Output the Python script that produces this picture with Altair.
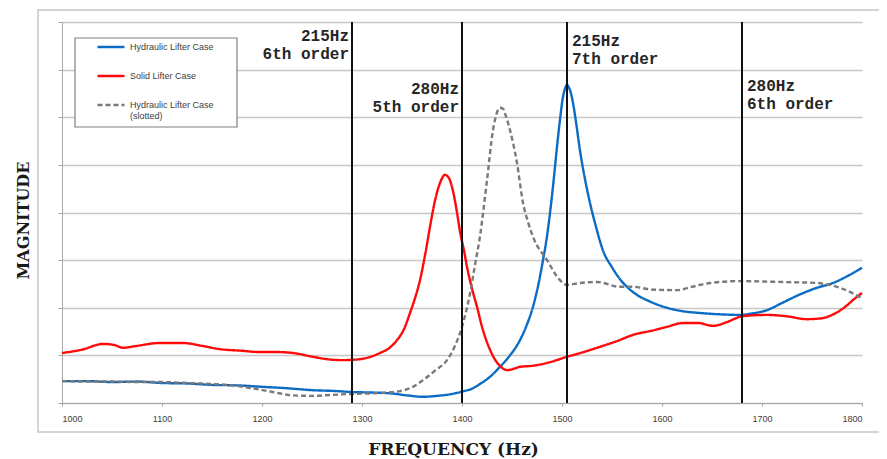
import altair as alt
import pandas as pd

# ---------------- data ----------------
series_names = ["Hydraulic Lifter Case", "Solid Lifter Case", "Hydraulic Lifter Case (slotted)"]
series_colors = ["#0a6cc4", "#ff0a0a", "#7a7a7a"]
series_dash = [[1, 0], [1, 0], [5, 3]]

hyd_freq = [1000, 1025, 1050, 1075, 1100, 1125, 1150, 1175, 1200, 1225, 1250, 1275, 1290,
            1310, 1330, 1345, 1361, 1375, 1390, 1400, 1410, 1418, 1428, 1438, 1448, 1458,
            1465, 1471, 1476, 1481, 1485, 1488, 1492, 1495, 1498, 1501, 1503, 1505, 1507,
            1509, 1511, 1514, 1518, 1523, 1528, 1534, 1541, 1550, 1558, 1571, 1588, 1605,
            1620, 1638, 1660, 1678, 1690, 1705, 1720, 1738, 1755, 1771, 1785, 1800]
hyd_mag = [0.46, 0.46, 0.44, 0.45, 0.42, 0.41, 0.38, 0.37, 0.34, 0.31, 0.27, 0.25, 0.23,
           0.22, 0.20, 0.16, 0.13, 0.15, 0.19, 0.24, 0.30, 0.40, 0.55, 0.76, 1.00, 1.32,
           1.65, 2.02, 2.45, 3.00, 3.50, 3.99, 4.75, 5.38, 5.95, 6.43, 6.60, 6.68, 6.62,
           6.50, 6.30, 5.90, 5.30, 4.70, 4.20, 3.70, 3.20, 2.85, 2.60, 2.33, 2.13, 2.00,
           1.93, 1.89, 1.86, 1.85, 1.88, 1.95, 2.10, 2.28, 2.42, 2.52, 2.66, 2.84]

solid_freq = [1000, 1020, 1041, 1052, 1061, 1075, 1098, 1121, 1140, 1158, 1178, 1198, 1215,
              1231, 1251, 1265, 1280, 1298, 1310, 1318, 1327, 1335, 1342, 1348, 1353, 1358,
              1363, 1368, 1373, 1378, 1383, 1387, 1391, 1395, 1398, 1402, 1405, 1410, 1415,
              1420, 1428, 1435, 1440, 1445, 1452, 1458, 1470, 1485, 1505, 1520, 1538, 1555,
              1571, 1590, 1605, 1621, 1636, 1651, 1665, 1678, 1690, 1705, 1725, 1745, 1760,
              1770, 1782, 1792, 1800]
solid_mag = [1.05, 1.12, 1.24, 1.22, 1.16, 1.20, 1.26, 1.26, 1.20, 1.13, 1.10, 1.07, 1.07,
             1.05, 0.97, 0.92, 0.90, 0.92, 0.98, 1.05, 1.15, 1.32, 1.55, 1.89, 2.20, 2.58,
             3.10, 3.70, 4.25, 4.62, 4.79, 4.72, 4.45, 4.00, 3.60, 3.20, 2.86, 2.40, 2.02,
             1.60, 1.12, 0.85, 0.74, 0.69, 0.72, 0.76, 0.78, 0.84, 0.97, 1.06, 1.18, 1.30,
             1.43, 1.52, 1.60, 1.68, 1.68, 1.62, 1.70, 1.81, 1.84, 1.85, 1.82, 1.76, 1.78,
             1.85, 2.00, 2.18, 2.31]

slot_freq = [1000, 1025, 1050, 1075, 1100, 1125, 1150, 1170, 1190, 1211, 1231, 1251, 1270,
             1288, 1318, 1338, 1350, 1361, 1373, 1385, 1393, 1400, 1408, 1413, 1418, 1425,
             1431, 1435, 1438, 1441, 1444, 1448, 1455, 1461, 1466, 1471, 1485, 1498, 1505,
             1518, 1535, 1558, 1571, 1590, 1615, 1630, 1648, 1678, 1721, 1755, 1778, 1800]
slot_mag = [0.46, 0.45, 0.45, 0.44, 0.44, 0.42, 0.40, 0.37, 0.31, 0.23, 0.16, 0.15, 0.17,
            0.19, 0.21, 0.25, 0.33, 0.48, 0.68, 0.90, 1.20, 1.60, 2.30, 2.90, 3.50, 4.68,
            5.73, 6.10, 6.20, 6.18, 6.02, 5.73, 5.04, 4.20, 3.80, 3.49, 3.00, 2.58, 2.48,
            2.52, 2.54, 2.44, 2.44, 2.38, 2.37, 2.44, 2.52, 2.56, 2.54, 2.52, 2.42, 2.20]

order_freq = [1290, 1400, 1505, 1680]
order_text = ["215Hz\n6th order", "280Hz\n5th order", "215Hz\n7th order", "280Hz\n6th order"]
order_text_y = [7.60, 6.49, 7.49, 6.55]
order_side = ["right", "right", "left", "left"]

x_ticks = [1000, 1100, 1200, 1300, 1400, 1500, 1600, 1700, 1800]
y_ticks = [0, 1, 2, 3, 4, 5, 6, 7, 8]

# ---------------- tables ----------------
rows = []
for name, fr, mg in zip(series_names, [hyd_freq, solid_freq, slot_freq], [hyd_mag, solid_mag, slot_mag]):
    for f, m in zip(fr, mg):
        rows.append({"series": name, "freq": f, "mag": m})
curves = pd.DataFrame(rows)
orders = pd.DataFrame({"freq": order_freq, "mag": order_text_y, "label": order_text, "side": order_side})

xscale = alt.Scale(domain=[1000, 1800], nice=False, zero=False)
yscale = alt.Scale(domain=[0, 8], nice=False, zero=True)

X = alt.X("freq:Q", scale=xscale,
          axis=alt.Axis(values=x_ticks, grid=False, title="FREQUENCY (Hz)", tickSize=3, format="d",
                        labelPadding=8, titlePadding=18, titleX=391, titleFontSize=17))
Y = alt.Y("mag:Q", scale=yscale,
          axis=alt.Axis(values=y_ticks, labels=False, title="MAGNITUDE", tickSize=4,
                        titlePadding=26, titleY=198, grid=True, titleFontSize=16))

legend = alt.Legend(title=None, orient="none", legendX=34, legendY=10, symbolType="stroke",
                    symbolSize=729, symbolStrokeWidth=2.5, labelFont="Liberation Sans",
                    labelFontSize=9, labelColor="#404040", labelOffset=4, rowPadding=9,
                    padding=0, labelLimit=300,
                    labelExpr="datum.label == 'Hydraulic Lifter Case (slotted)' ? ['Hydraulic Lifter Case', '(slotted)'] : datum.label")

base = alt.Chart(curves)

frame = alt.Chart(pd.DataFrame({"k": [0]})).mark_rect(
    fill="white", fillOpacity=0, stroke="#d4d4d4", strokeWidth=2, clip=False
).encode(x=alt.value(-24), x2=alt.value(818), y=alt.value(-12), y2=alt.value(410))

legbox = alt.Chart(pd.DataFrame({"k": [0]})).mark_rect(
    fill="white", stroke="#808080", strokeWidth=1.2
).encode(x=alt.value(13), x2=alt.value(175), y=alt.value(16), y2=alt.value(105))

lines = base.mark_line(strokeWidth=2.4, interpolate="monotone").encode(
    x=X, y=Y,
    color=alt.Color("series:N", scale=alt.Scale(domain=series_names, range=series_colors), legend=legend),
    strokeDash=alt.StrokeDash("series:N", scale=alt.Scale(domain=series_names, range=series_dash), legend=legend),
)

rules = alt.Chart(orders).mark_rule(color="#111111", strokeWidth=2).encode(x=X)

txt_kw = dict(font="Liberation Mono", fontWeight="bold", fontSize=16, lineBreak="\n",
              baseline="alphabetic", lineHeight=18, color="#262626")
text_r = alt.Chart(orders).transform_filter("datum.side == 'right'").mark_text(
    align="right", dx=-3, **txt_kw).encode(x=X, y=Y, text="label:N")
text_l = alt.Chart(orders).transform_filter("datum.side == 'left'").mark_text(
    align="left", dx=5, **txt_kw).encode(x=X, y=Y, text="label:N")

chart = alt.layer(frame, legbox, lines, rules, text_r, text_l).properties(
    width=800, height=381,
    autosize=alt.AutoSizeParams(type="none"),
    padding={"left": 54, "top": 14, "right": 17, "bottom": 56},
).configure_view(strokeOpacity=0).configure_axis(
    domainColor="#a6a6a6", tickColor="#a6a6a6", gridColor="#c8c8c8", gridWidth=1.3,
    labelFont="Liberation Sans", labelFontSize=9, labelColor="#404040",
    titleFont="DejaVu Serif", titleFontWeight="bold", titleColor="#1a1a1a",
)

chart.save("out.html", embed_options={"renderer": "svg", "actions": False})
